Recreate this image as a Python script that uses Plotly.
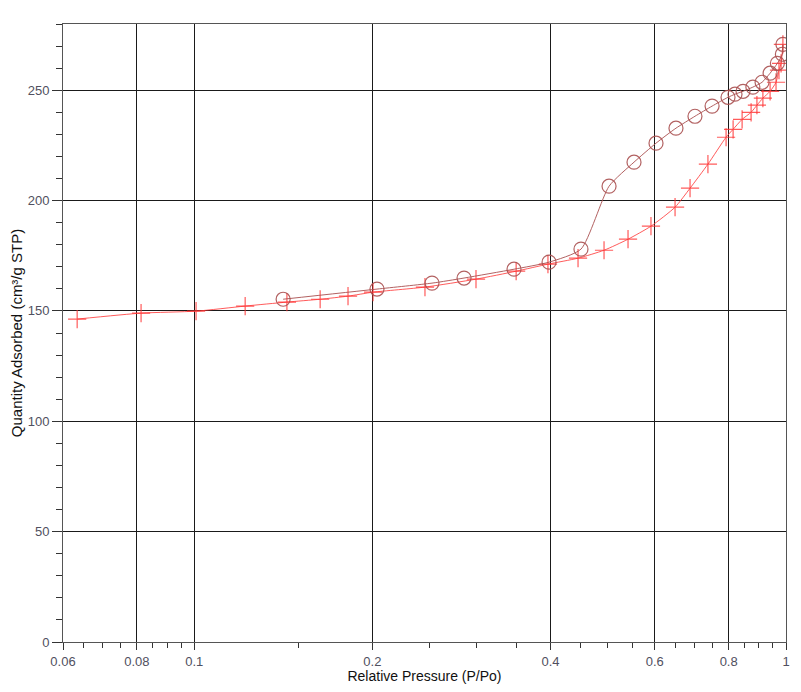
import plotly.graph_objects as go

# Adsorption branch (relative pressure, quantity adsorbed)
ads_p = [0.0634, 0.0813, 0.1007, 0.1219, 0.1434, 0.1632, 0.1819, 0.2005, 0.2454, 0.2993,
         0.3499, 0.396, 0.4452, 0.4926, 0.5408, 0.5913, 0.6494, 0.6884, 0.738, 0.792,
         0.814, 0.843, 0.873, 0.893, 0.914, 0.940, 0.962, 0.973, 0.981, 0.988]
ads_v = [146.3, 149.0, 149.9, 152.2, 154.0, 155.3, 156.7, 158.5, 160.8, 164.4,
         168.0, 171.2, 173.9, 177.5, 182.5, 188.4, 197.0, 205.6, 216.5, 228.7,
         232.3, 236.8, 240.0, 243.2, 246.4, 249.5, 253.6, 259.1, 262.2, 270.8]

# Desorption branch
des_p = [0.988, 0.986, 0.967, 0.940, 0.911, 0.879, 0.846, 0.820, 0.798, 0.750,
         0.7017, 0.6517, 0.603, 0.5535, 0.5023, 0.4503, 0.3977, 0.347, 0.2857, 0.2522,
         0.2036, 0.1413]
des_v = [270.8, 266.3, 262.2, 257.7, 253.6, 251.4, 249.5, 248.2, 246.8, 242.8,
         238.2, 232.8, 226.0, 217.4, 206.5, 178.0, 172.1, 168.9, 164.9, 162.6,
         159.9, 155.3]

x_major = [0.06, 0.08, 0.1, 0.2, 0.4, 0.6, 0.8, 1]
x_major_text = ["0.06", "0.08", "0.1", "0.2", "0.4", "0.6", "0.8", "1"]
x_minor = [0.065, 0.07, 0.075, 0.085, 0.09, 0.095, 0.15, 0.25, 0.3, 0.35,
           0.45, 0.5, 0.55, 0.65, 0.7, 0.75, 0.85, 0.9, 0.95]

fig = go.Figure()
fig.add_trace(go.Scatter(
    x=ads_p, y=ads_v, mode="lines+markers", name="Adsorption",
    line=dict(color="rgba(255,50,50,0.8)", width=1, shape="spline", smoothing=0.6),
    marker=dict(symbol="cross-thin-open", size=13, line=dict(color="#ff0000", width=1.2)),
))
fig.add_trace(go.Scatter(
    x=des_p, y=des_v, mode="lines+markers", name="Desorption",
    line=dict(color="rgba(170,80,80,0.9)", width=1, shape="spline", smoothing=0.6),
    marker=dict(symbol="circle-open", size=14, line=dict(color="rgba(170,80,80,0.75)", width=1.2)),
))

fig.update_layout(
    width=785, height=676,
    margin=dict(l=55, r=7, t=16, b=42),
    paper_bgcolor="white", plot_bgcolor="white",
    showlegend=False,
    font=dict(family="Liberation Sans, Arial, sans-serif", size=13, color="#222"),
)
fig.update_xaxes(
    type="log", range=[-1.2218487496, 0], automargin=False,
    tickmode="array", tickvals=x_major, ticktext=x_major_text,
    ticks="outside", ticklen=7, tickcolor="#333", tickwidth=1,
    tickfont=dict(size=13, color="#505060"),
    showgrid=True, gridcolor="#1a1a1a", gridwidth=1,
    showline=True, linecolor="#555", linewidth=1, mirror=True,
    minor=dict(tickvals=x_minor, ticks="outside", ticklen=5, tickcolor="#333", showgrid=False),
    title=dict(text="Relative Pressure (P/Po)", font=dict(size=14, color="#111"), standoff=4),
    zeroline=False,
)
fig.update_yaxes(
    range=[0, 280], tickmode="linear", tick0=0, dtick=50, automargin=False,
    ticks="outside", ticklen=10, tickcolor="#333", tickwidth=1,
    tickfont=dict(size=13, color="#505060"),
    showgrid=True, gridcolor="#1a1a1a", gridwidth=1,
    showline=True, linecolor="#555", linewidth=1, mirror=True,
    minor=dict(dtick=10, ticks="outside", ticklen=6, tickcolor="#333", showgrid=False),
    title=dict(text="Quantity Adsorbed (cm³/g STP)", font=dict(size=15, color="#111"), standoff=6),
    zeroline=False,
)

fig.write_html("out.html")
